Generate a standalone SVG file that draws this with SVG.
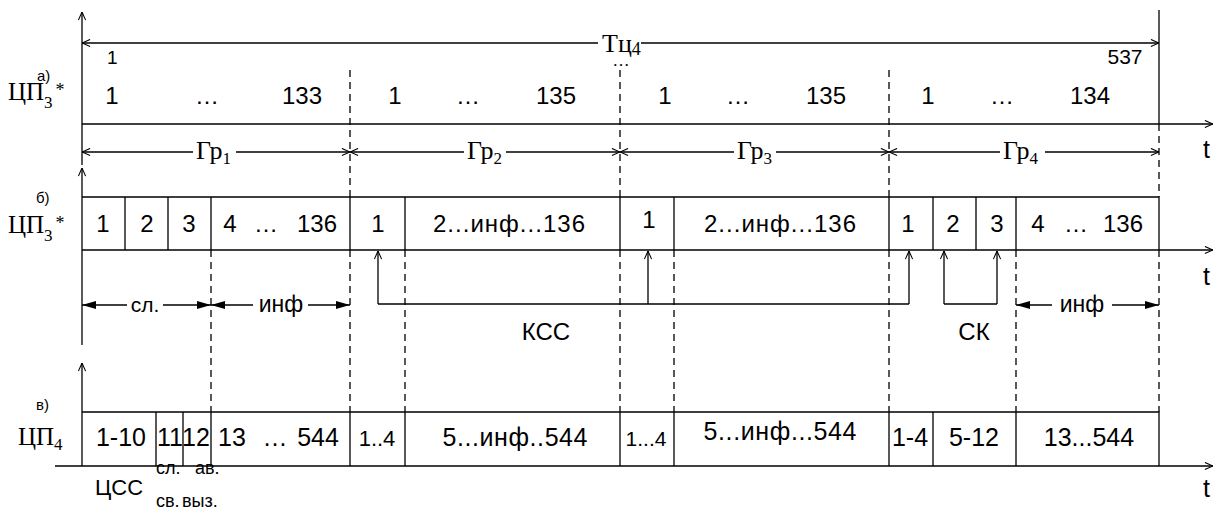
<svg xmlns="http://www.w3.org/2000/svg" width="1224" height="510" viewBox="0 0 1224 510">
  <style>
    .ln { stroke: #000; stroke-width: 1.3; fill: none; }
    .dash { stroke: #000; stroke-width: 1.3; fill: none; stroke-dasharray: 7 5; }
    .sans { font-family: "Liberation Sans", Arial, sans-serif; fill: #000; }
    .serif { font-family: "Liberation Serif", "Times New Roman", serif; fill: #000; }
    .num { font-size: 24px; text-anchor: middle; }
    .numc { font-size: 25px; text-anchor: middle; }
    .tag { font-size: 15px; }
    .lbl { font-size: 25px; }
    .sub { font-size: 17px; }
    .grp { font-size: 26px; }
  </style>
  <defs>
    <marker id="open" viewBox="0 0 10 10" refX="10" refY="5" markerWidth="9" markerHeight="9" markerUnits="userSpaceOnUse" orient="auto-start-reverse">
      <path d="M1,1 L10,5 L1,9" fill="none" stroke="#000" stroke-width="1.2"/>
    </marker>
    <marker id="solid" viewBox="0 0 14 8" refX="14" refY="4" markerWidth="14" markerHeight="8" markerUnits="userSpaceOnUse" orient="auto-start-reverse">
      <path d="M0,0 L14,4 L0,8 Z" fill="#000"/>
    </marker>
  </defs>
  <rect width="1224" height="510" fill="#fff"/>

  <!-- axes -->
  <g id="axes">
    <line class="ln" x1="82" y1="165" x2="82" y2="12" marker-end="url(#open)"/>
    <line class="ln" x1="82" y1="345" x2="82" y2="168" marker-end="url(#open)"/>
    <line class="ln" x1="82" y1="466" x2="82" y2="363" marker-end="url(#open)"/>
    <line class="ln" x1="82" y1="124" x2="1213" y2="124" marker-end="url(#open)"/>
    <line class="ln" x1="82" y1="250" x2="1213" y2="250" marker-end="url(#open)"/>
    <line class="ln" x1="55" y1="466" x2="1213" y2="466" marker-end="url(#open)"/>
    <text class="sans lbl" x="1203" y="158">t</text>
    <text class="sans lbl" x="1203" y="285">t</text>
    <text class="sans lbl" x="1203" y="497">t</text>
  </g>

  <!-- dashed group boundaries -->
  <g id="boundaries">
    <path class="dash" d="M350,70 V197 M350,250 V412 M620,70 V197 M620,250 V412 M889,70 V197 M889,250 V412 M1159,124 V197 M1159,250 V412"/>
    <path class="dash" d="M211,250 V412 M405,250 V412 M674,250 V412 M1016,250 V412"/>
    <line class="ln" x1="1159" y1="10" x2="1159" y2="124"/>
  </g>

  <!-- cycle period Tц4 -->
  <g id="cycle">
    <line class="ln" x1="598" y1="43" x2="82" y2="43" marker-end="url(#open)"/>
    <line class="ln" x1="641" y1="43" x2="1159" y2="43" marker-end="url(#open)"/>
    <text class="serif" x="602" y="52" font-size="26">Тц<tspan font-size="18" dy="3">4</tspan></text>
    <text class="sans" x="107" y="64" font-size="19">1</text>
    <text class="sans" x="1125" y="64" font-size="21" text-anchor="middle">537</text>
    <text class="serif" x="621" y="66" font-size="17" text-anchor="middle">…</text>
  </g>

  <!-- row а) ЦП3* -->
  <g id="row-a">
    <text class="sans tag" x="37" y="81">а)</text>
    <text class="serif lbl" x="8" y="100">ЦП<tspan class="sub" dy="8">3</tspan><tspan font-size="18" dx="3" dy="-12">*</tspan></text>
    <g class="sans num">
      <text x="112" y="104">1</text><text x="207" y="104">…</text><text x="302" y="104">133</text>
      <text x="395" y="104">1</text><text x="468" y="104">…</text><text x="556" y="104">135</text>
      <text x="665" y="104">1</text><text x="738" y="104">…</text><text x="826" y="104">135</text>
      <text x="928" y="104">1</text><text x="1002" y="104">…</text><text x="1090" y="104">134</text>
    </g>
  </g>

  <!-- groups Гр1..Гр4 -->
  <g id="groups">
    <line class="ln" x1="193" y1="152" x2="82" y2="152" marker-end="url(#open)"/>
    <line class="ln" x1="236" y1="152" x2="350" y2="152" marker-end="url(#open)"/>
    <line class="ln" x1="464" y1="152" x2="350" y2="152" marker-end="url(#open)"/>
    <line class="ln" x1="506" y1="152" x2="620" y2="152" marker-end="url(#open)"/>
    <line class="ln" x1="734" y1="152" x2="620" y2="152" marker-end="url(#open)"/>
    <line class="ln" x1="776" y1="152" x2="889" y2="152" marker-end="url(#open)"/>
    <line class="ln" x1="1000" y1="152" x2="889" y2="152" marker-end="url(#open)"/>
    <line class="ln" x1="1045" y1="152" x2="1159" y2="152" marker-end="url(#open)"/>
    <text class="serif grp" x="196" y="159">Гр<tspan class="sub" dy="5">1</tspan></text>
    <text class="serif grp" x="467" y="159">Гр<tspan class="sub" dy="5">2</tspan></text>
    <text class="serif grp" x="737" y="159">Гр<tspan class="sub" dy="5">3</tspan></text>
    <text class="serif grp" x="1003" y="159">Гр<tspan class="sub" dy="5">4</tspan></text>
  </g>

  <!-- row б) ЦП3* slots -->
  <g id="row-b">
    <text class="sans tag" x="36" y="203">б)</text>
    <text class="serif lbl" x="8" y="233">ЦП<tspan class="sub" dy="8">3</tspan><tspan font-size="18" dx="3" dy="-12">*</tspan></text>
    <path class="ln" d="M82,197 H1159 V250 M125,197 V250 M168,197 V250 M211,197 V250 M350,197 V250 M405,197 V250 M620,197 V250 M674,197 V250 M889,197 V250 M933,197 V250 M976,197 V250 M1016,197 V250"/>
    <g class="sans num">
      <text x="103" y="232">1</text><text x="147" y="232">2</text><text x="189" y="232">3</text>
      <text x="230" y="232">4</text><text x="266" y="232">…</text><text x="317" y="232">136</text>
      <text x="378" y="232">1</text>
      <text x="509" y="232" textLength="152" lengthAdjust="spacing">2...инф...136</text>
      <text x="649" y="228">1</text>
      <text x="780" y="232" textLength="152" lengthAdjust="spacing">2...инф...136</text>
      <text x="908" y="232">1</text><text x="953" y="232">2</text><text x="997" y="232">3</text>
      <text x="1038" y="232">4</text><text x="1076" y="232">…</text><text x="1123" y="232">136</text>
    </g>
  </g>

  <!-- spans below row б -->
  <g id="spans">
    <line class="ln" x1="127" y1="305" x2="82" y2="305" marker-end="url(#solid)"/>
    <line class="ln" x1="163" y1="305" x2="211" y2="305" marker-end="url(#solid)"/>
    <line class="ln" x1="253" y1="305" x2="211" y2="305" marker-end="url(#solid)"/>
    <line class="ln" x1="308" y1="305" x2="350" y2="305" marker-end="url(#solid)"/>
    <line class="ln" x1="1052" y1="305" x2="1016" y2="305" marker-end="url(#solid)"/>
    <line class="ln" x1="1112" y1="305" x2="1159" y2="305" marker-end="url(#solid)"/>
    <text class="sans" x="145" y="312" font-size="21" text-anchor="middle">сл.</text>
    <text class="sans" x="281" y="312" font-size="23" text-anchor="middle">инф</text>
    <text class="sans" x="1082" y="312" font-size="23" text-anchor="middle">инф</text>
  </g>

  <!-- КСС and СК links -->
  <g id="connectors">
    <path class="ln" d="M378,304 H909"/>
    <line class="ln" x1="378" y1="304" x2="378" y2="251" marker-end="url(#open)"/>
    <line class="ln" x1="648" y1="304" x2="648" y2="251" marker-end="url(#open)"/>
    <line class="ln" x1="909" y1="304" x2="909" y2="251" marker-end="url(#open)"/>
    <path class="ln" d="M944,304 H997"/>
    <line class="ln" x1="944" y1="304" x2="944" y2="251" marker-end="url(#open)"/>
    <line class="ln" x1="997" y1="304" x2="997" y2="251" marker-end="url(#open)"/>
    <text class="sans" x="546" y="340" font-size="24" text-anchor="middle">КСС</text>
    <text class="sans" x="974" y="340" font-size="24" text-anchor="middle">СК</text>
  </g>

  <!-- row в) ЦП4 slots -->
  <g id="row-c">
    <text class="sans tag" x="36" y="410">в)</text>
    <text class="serif lbl" x="18" y="445">ЦП<tspan class="sub" dy="5">4</tspan></text>
    <path class="ln" d="M82,412 H1159 V466 M156,412 V466 M183,412 V466 M211,412 V466 M350,412 V466 M405,412 V466 M620,412 V466 M674,412 V466 M889,412 V466 M933,412 V466 M1016,412 V466"/>
    <g class="sans numc">
      <text x="121" y="446">1-10</text>
      <text x="170" y="446">11</text>
      <text x="196" y="446">12</text>
      <text x="232" y="446">13</text><text x="275" y="446">…</text><text x="318" y="446">544</text>
      <text x="377" y="446" font-size="22">1..4</text>
      <text x="515" y="446" textLength="145" lengthAdjust="spacing">5...инф..544</text>
      <text x="646" y="446" font-size="21">1...4</text>
      <text x="780" y="440" textLength="153" lengthAdjust="spacing">5...инф...544</text>
      <text x="910" y="446">1-4</text>
      <text x="974" y="446">5-12</text>
      <text x="1089" y="446">13...544</text>
    </g>
    <text class="sans" x="95" y="495" font-size="22">ЦСС</text>
    <text class="sans" x="156" y="474" font-size="18">сл.<tspan x="195">ав.</tspan></text>
    <text class="sans" x="156" y="507" font-size="18">св.<tspan x="182">выз.</tspan></text>
  </g>
</svg>
